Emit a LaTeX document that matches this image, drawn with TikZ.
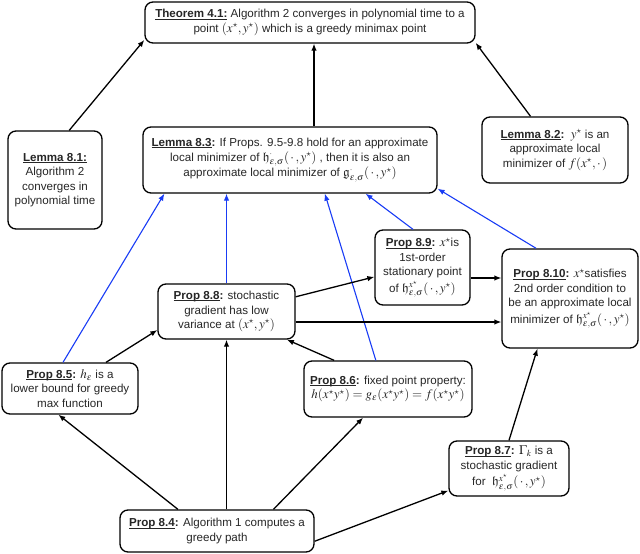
\documentclass[tikz,border=0pt]{standalone}
\usepackage{amssymb}
\usepackage{mathptmx}
\usepackage[no-math]{fontspec}
\setmainfont{Liberation Sans}
\usetikzlibrary{arrows.meta}
\DeclareMathSizes{11.6}{13}{9.2}{7}
\definecolor{linkblue}{RGB}{25,60,245}
\newsavebox{\labbox}
\newcommand{\lab}[1]{\sbox{\labbox}{\textbf{#1}}\rlap{\rule[-1.6pt]{\wd\labbox}{0.7pt}}\usebox{\labbox}}
\newcommand{\hfr}[1]{\mathfrak{h}^{#1}_{\varepsilon,\sigma}(\,\cdot\,,y^\star)}
\begin{document}
\begin{tikzpicture}[x=1pt,y=-1pt,>={Latex[length=7pt,width=5.5pt]},
	box/.style={draw,rounded corners=8pt,line width=1.3pt,align=center,inner sep=2pt,
		text=black!85,font=\fontsize{11.6}{14.5}\selectfont},
	link/.style={->,line width=1.3pt},
	bluelink/.style={->,line width=1.1pt,linkblue}]
\useasboundingbox (0,0) rectangle (640,554);

\node[box,minimum width=330pt,minimum height=41pt] (thm) at (310,22.5)
	{\lab{Theorem 4.1:} Algorithm 2 converges in polynomial time to a\\
	 point $(x^\star,y^\star)$ which is a greedy minimax point};
\node[box,minimum width=94pt,minimum height=98pt] (l81) at (55,180)
	{\lab{Lemma 8.1:}\\ Algorithm 2\\ converges in\\ polynomial time};
\node[box,minimum width=294pt,minimum height=66pt] (l83) at (290,160)
	{\lab{Lemma 8.3}\textbf{:} If Props. 9.5-9.8 hold for an approximate\\
	 local minimizer of $\mathfrak{h}^{\cdot}_{\varepsilon,\sigma}(\,\cdot\,,y^\star)$ , then it is also an\\
	 approximate local minimizer of $\mathfrak{g}^{\cdot}_{\varepsilon,\sigma}(\,\cdot\,,y^\star)$};
\node[box,minimum width=146pt,minimum height=66pt] (l82) at (555,150)
	{\lab{Lemma 8.2}\textbf{:}\ \ $y^\star$ is an\\ approximate local\\ minimizer of $f(x^\star,\cdot\,)$};
\node[box,minimum width=95pt,minimum height=75pt] (p89) at (422.5,267.5)
	{\lab{Prop 8.9}\textbf{:} $x^\star$is\\ 1st-order\\ stationary point\\[2pt] of $\hfr{x^\star}$};
\node[box,minimum width=136pt,minimum height=99pt] (p810) at (570,298.5)
	{\lab{Prop 8.10}\textbf{:} $x^\star$satisfies\\ 2nd order condition to\\ be an approximate local\\[2pt] minimizer of $\hfr{x^\star}$};
\node[box,minimum width=137pt,minimum height=55pt] (p88) at (226.5,311.5)
	{\lab{Prop 8.8}\textbf{:} stochastic\\ gradient has low\\ variance at $(x^\star,y^\star)$};
\node[box,minimum width=136pt,minimum height=51pt] (p85) at (70,388.5)
	{\lab{Prop 8.5}\textbf{:} $h_\varepsilon$ is a\\ lower bound for greedy\\ max function};
\node[box,minimum width=168pt,minimum height=56pt] (p86) at (388,389)
	{\lab{Prop 8.6}\textbf{:} fixed point property:\\
	 $h(x^\star y^\star)=g_\varepsilon(x^\star y^\star)=f(x^\star y^\star)$};
\node[box,minimum width=120pt,minimum height=55pt] (p87) at (509,468.5)
	{\lab{Prop 8.7}\textbf{:} $\Gamma_k$ is a\\ stochastic gradient\\[2pt] for\ \ $\hfr{x^\star}$};
\node[box,minimum width=194pt,minimum height=42pt] (p84) at (217,531)
	{\lab{Prop 8.4}\textbf{:} Algorithm 1 computes a\\ greedy path};

% up to the theorem
\draw[link] (l81.74) -- (thm.186);
\draw[link] ([xshift=4pt]l83.north -| thm.south) -- ([xshift=4pt]thm.south);
\draw[link] (l82.126) -- (thm.-7);

% into lemma 8.3
\draw[bluelink] (p85.105) -- (l83.195);
\draw[bluelink] (p88.north) -- (p88.north |- l83.south);
\draw[bluelink] (p86.113) -- (l83.-44);
\draw[bluelink] (p89.104) -- (l83.-24);
\draw[bluelink] (p810.124) -- (l83.-11);

% the props
\draw[link] (p88.12) -- (p89.191);
\draw[link] ([yshift=-10.5pt]p89.east) -- ([yshift=-10.5pt]p89.east -| p810.west);
\draw[link] ([yshift=-10.5pt]p88.east) -- ([yshift=-10.5pt]p88.east -| p810.west);
\draw[link] (p85.36) -- (p88.195);
\draw[link] (p86.152) -- (p88.-25);
\draw[link] (p84.north -| p88.south) -- (p88.south);
\draw[link] (p84.151) -- (p85.246);
\draw[link] (p84.21) -- (p86.229);
\draw[link] (p84.-6) -- (p87.200);
\draw[link] (p87.north) -- (p810.237);

\end{tikzpicture}
\end{document}
